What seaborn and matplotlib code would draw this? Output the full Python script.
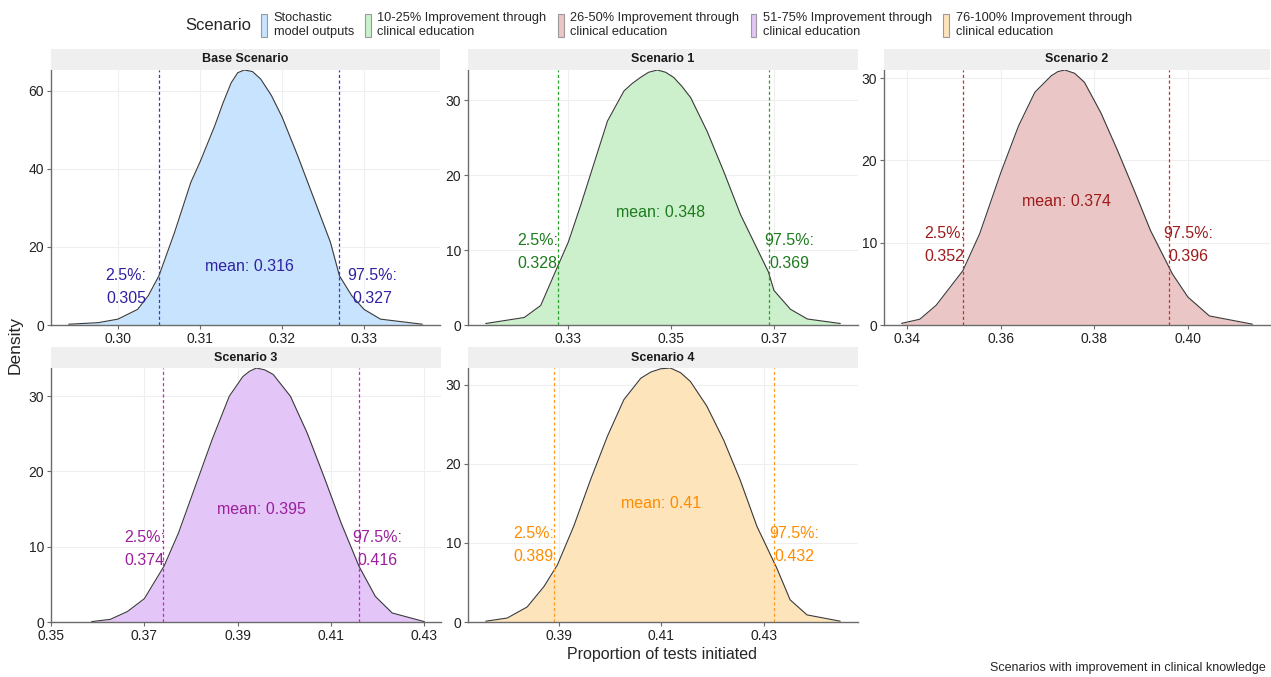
import numpy as np
import pandas as pd
import seaborn as sns
from matplotlib import pyplot as plt
from matplotlib.patches import Patch

# density curves
x_base = [0.2940, 0.2976, 0.3000, 0.3024, 0.3037, 0.3050, 0.3069, 0.3089, 0.3100, 0.3118, 0.3128,
          0.3138, 0.3146, 0.3154, 0.3164, 0.3174, 0.3187, 0.3200, 0.3219, 0.3239, 0.3259, 0.3270,
          0.3285, 0.3300, 0.3320, 0.3371]
d_base = [0.2, 0.6, 1.5, 4.0, 7.5, 12.6, 23.7, 36.6, 41.7, 51.0, 56.8,
          62.0, 64.6, 65.3, 64.9, 63.0, 58.8, 53.3, 43.4, 32.3, 21.2, 12.6,
          7.5, 4.0, 1.5, 0.2]

x_s1 = [0.3139, 0.3214, 0.3246, 0.3277, 0.3300, 0.3324, 0.3350, 0.3376, 0.3408, 0.3424, 0.3440,
        0.3456, 0.3473, 0.3489, 0.3505, 0.3521, 0.3538, 0.3570, 0.3602, 0.3635, 0.3689, 0.3700,
        0.3732, 0.3765, 0.3829]
d_s1 = [0.2, 1.0, 2.6, 7.5, 11.1, 16.0, 21.6, 27.2, 31.2, 32.2, 33.0,
        33.7, 34.0, 33.7, 33.0, 31.8, 30.3, 25.8, 20.5, 14.7, 7.1, 4.6,
        2.1, 0.8, 0.2]

x_s2 = [0.3388, 0.3427, 0.3462, 0.3519, 0.3555, 0.3600, 0.3638, 0.3673, 0.3708, 0.3722, 0.3737,
        0.3758, 0.3779, 0.3814, 0.3849, 0.3885, 0.3920, 0.3967, 0.4000, 0.4046, 0.4138]
d_s2 = [0.2, 0.7, 2.4, 6.6, 11.1, 18.5, 24.2, 28.3, 30.3, 30.8, 31.0,
        30.6, 29.5, 25.8, 21.3, 16.4, 11.5, 6.2, 3.4, 1.1, 0.1]

x_s3 = [0.3587, 0.3627, 0.3664, 0.3700, 0.3742, 0.3773, 0.3809, 0.3845, 0.3882, 0.3911, 0.3925,
        0.3940, 0.3958, 0.3976, 0.4013, 0.4049, 0.4085, 0.4122, 0.4160, 0.4195, 0.4231, 0.4300]
d_s3 = [0.05, 0.35, 1.4, 3.1, 7.4, 11.8, 18.0, 24.2, 30.0, 32.6, 33.3,
        33.75, 33.5, 32.9, 30.0, 25.1, 19.3, 13.1, 7.4, 3.4, 1.2, 0.05]

x_s4 = [0.3757, 0.3799, 0.3838, 0.3871, 0.3897, 0.3929, 0.3962, 0.3995, 0.4027, 0.4060, 0.4080,
        0.4099, 0.4118, 0.4138, 0.4157, 0.4189, 0.4222, 0.4254, 0.4287, 0.4326, 0.4352, 0.4385,
        0.4450]
d_s4 = [0.1, 0.5, 1.9, 4.5, 7.2, 12.1, 18.0, 23.5, 28.1, 30.8, 31.6,
        32.0, 32.1, 31.5, 30.4, 27.3, 23.0, 18.0, 12.1, 6.8, 2.8, 0.9,
        0.1]

titles = ['Base Scenario', 'Scenario 1', 'Scenario 2', 'Scenario 3', 'Scenario 4']
legend_labels = ['Stochastic\nmodel outputs',
                 '10-25% Improvement through\nclinical education',
                 '26-50% Improvement through\nclinical education',
                 '51-75% Improvement through\nclinical education',
                 '76-100% Improvement through\nclinical education']
means = [0.316, 0.348, 0.374, 0.395, 0.41]
q_low = [0.305, 0.328, 0.352, 0.374, 0.389]
q_high = [0.327, 0.369, 0.396, 0.416, 0.432]
x_ticks = [[0.30, 0.31, 0.32, 0.33], [0.33, 0.35, 0.37], [0.34, 0.36, 0.38, 0.40],
           [0.35, 0.37, 0.39, 0.41, 0.43], [0.39, 0.41, 0.43]]
y_ticks = [[0, 20, 40, 60], [0, 10, 20, 30], [0, 10, 20, 30], [0, 10, 20, 30], [0, 10, 20, 30]]

fills = ['#C8E3FD', '#CBF0CB', '#EAC6C6', '#E3C5F8', '#FDE4BB']
text_cols = ['#2F22A2', '#1E7B1E', '#9E1B1B', '#9B1F9B', '#FF8C00']
line_cols = ['#3a2ee0', '#2aa02a', '#d02a2a', '#cc22cc', '#FF9a20']

curves = [(x_base, d_base), (x_s1, d_s1), (x_s2, d_s2), (x_s3, d_s3), (x_s4, d_s4)]

sns.set_theme(style='white')
plt.rcParams['font.family'] = ['Liberation Sans', 'DejaVu Sans']

W, H = 1271, 677
fig = plt.figure(figsize=(W / 100, H / 100), dpi=100)

# panel boxes in pixels: left, top, right, bottom
boxes = [(51, 70, 440, 325), (468, 70, 858, 325), (884, 70, 1270, 325),
         (51, 368, 441, 622), (468, 368, 858, 622)]
strip_h = 21

for i, (l, t, r, b) in enumerate(boxes):
    ax = fig.add_axes([l / W, 1 - b / H, (r - l) / W, (b - t) / H])
    xs, ds = curves[i]
    df = pd.DataFrame({'x': xs, 'density': ds})
    ax.fill_between(df['x'], 0, df['density'], color=fills[i], linewidth=0)
    sns.lineplot(data=df, x='x', y='density', ax=ax, color='#3a3a3a', linewidth=0.8)
    for q in (q_low[i], q_high[i]):
        ax.axvline(q, color=line_cols[i], linestyle=(0, (2.5, 2)), linewidth=0.9)
    ax.text(means[i], 15, f'mean: {means[i]}', color=text_cols[i], fontsize=11.5,
            ha='center', va='center')
    ax.text(q_low[i] - 0.004, 9.7, f'2.5%:\n{q_low[i]}', color=text_cols[i], fontsize=11.5,
            ha='center', va='center', multialignment='center', linespacing=1.65)
    ax.text(q_high[i] + 0.004, 9.7, f'97.5%:\n{q_high[i]}', color=text_cols[i], fontsize=11.5,
            ha='center', va='center', multialignment='center', linespacing=1.65)

    span = max(xs) - min(xs)
    ax.set_xlim(min(xs) - 0.05 * span, max(xs) + 0.05 * span)
    ax.set_ylim(0, max(ds))
    ax.set_xticks(x_ticks[i])
    ax.set_xticklabels([f'{v:.2f}' for v in x_ticks[i]])
    ax.set_yticks(y_ticks[i])
    ax.set_xlabel('')
    ax.set_ylabel('')
    ax.grid(True, color='#EFEFEF', linewidth=0.8)
    ax.set_axisbelow(True)
    for side in ('top', 'right'):
        ax.spines[side].set_visible(False)
    for side in ('left', 'bottom'):
        ax.spines[side].set_color('#6b6b6b')
        ax.spines[side].set_linewidth(1.0)
    ax.tick_params(axis='both', length=3, width=0.8, color='#6b6b6b', labelsize=10,
                   labelcolor='#222222', pad=2, bottom=True, left=True)

    sax = fig.add_axes([l / W, 1 - t / H, (r - l) / W, strip_h / H])
    sax.set_facecolor('#EFEFEF')
    sax.set_xticks([])
    sax.set_yticks([])
    for sp in sax.spines.values():
        sp.set_visible(False)
    sax.text(0.5, 0.5, titles[i], ha='center', va='center', fontsize=9,
             fontweight='bold', color='#1a1a1a', transform=sax.transAxes)

fig.text(15 / W, 1 - 345 / H, 'Density', rotation=90, ha='center', va='center', fontsize=12.5)
fig.text(662 / W, 1 - 655 / H, 'Proportion of tests initiated', ha='center', va='center',
         fontsize=11.5)
fig.text(990 / W, 1 - 668 / H, 'Scenarios with improvement in clinical knowledge',
         ha='left', va='center', fontsize=9)

fig.text(185 / W, 1 - 25 / H, 'Scenario', ha='left', va='center', fontsize=12)
handles = [Patch(facecolor=f, edgecolor='#9a9a9a', linewidth=0.8) for f in fills]
fig.legend(handles, legend_labels, loc='center left', bbox_to_anchor=(255 / W, 1 - 25 / H),
           ncol=5, frameon=False, fontsize=9.2, handlelength=0.45, handleheight=2.3,
           handletextpad=0.5, columnspacing=0.9, borderpad=0, labelspacing=0)

plt.savefig('out.png', dpi=100)
